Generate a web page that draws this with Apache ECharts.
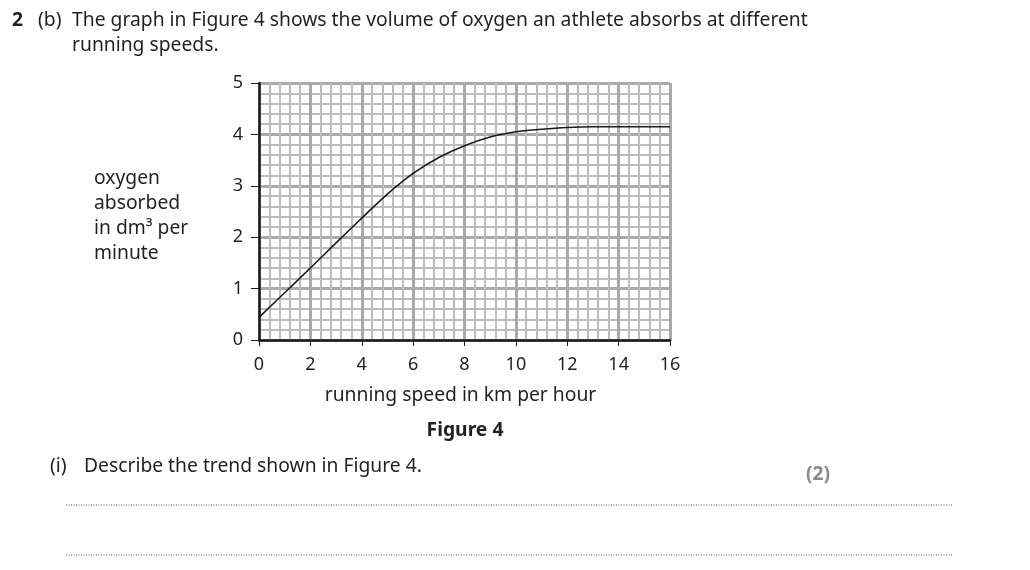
<!DOCTYPE html>
<html>
<head>
<meta charset="utf-8">
<script src="https://cdn.jsdelivr.net/npm/echarts@6/dist/echarts.min.js"></script>
<style>
html,body{margin:0;padding:0;background:#fff;}
#c{width:1030px;height:570px;}
</style>
</head>
<body>
<div id="c"></div>
<script>
// Data
const speeds = [0, 1, 2, 3, 4, 5, 6, 7, 8, 9, 10, 11, 12, 13, 14, 15, 16];
const oxygen = [0.44, 0.92, 1.40, 1.89, 2.37, 2.84, 3.24, 3.55, 3.78, 3.95, 4.05, 4.10, 4.135, 4.15, 4.15, 4.15, 4.15];
const xTicks = [0, 2, 4, 6, 8, 10, 12, 14, 16];
const yTicks = [0, 1, 2, 3, 4, 5];
const yLabelLines = ['oxygen', 'absorbed', 'in dm\u00B3 per', 'minute'];
const xAxisTitle = 'running speed in km per hour';
const figureTitle = 'Figure 4';
const headLine1 = 'The graph in Figure 4 shows the volume of oxygen an athlete absorbs at different';
const headLine2 = 'running speeds.';
const questionText = 'Describe the trend shown in Figure 4.';

const FONT = '"Noto Sans", sans-serif';
const FS = '19.3px ';
const TXT = '#231f20';

const chart = echarts.init(document.getElementById('c'));

function txt(x, y, t, opts) {
  return {type:'text', style: Object.assign({x:x, y:y, text:t, font:FS + FONT, fill:TXT, textVerticalAlign:'middle', textAlign:'left'}, opts || {})};
}

const graphics = [
  txt(12, 21, '2', {font:'bold ' + FS + FONT}),
  txt(38, 21, '(b)'),
  txt(72, 21, headLine1),
  txt(72, 46, headLine2),
  txt(465, 431, figureTitle, {font:'bold ' + FS + FONT, textAlign:'center'}),
  txt(50, 467, '(i)'),
  txt(84, 467, questionText),
  txt(806, 475, '(2)', {font:'bold ' + FS + FONT, fill:'#8a8a8a'}),
  {type:'line', shape:{x1:66, y1:505, x2:952, y2:505}, style:{stroke:'#555', lineWidth:1, lineDash:[1,1.5]}},
  {type:'line', shape:{x1:66, y1:555, x2:952, y2:555}, style:{stroke:'#555', lineWidth:1, lineDash:[1,1.5]}}
];
yLabelLines.forEach((t, i) => {
  graphics.push(txt(94, 179 + i * 25, t));
});

chart.setOption({
  animation: false,
  backgroundColor: '#fff',
  grid: {left: 259, right: 360, top: 83, bottom: 230, containLabel: false},
  xAxis: {
    type: 'value', min: xTicks[0], max: xTicks[xTicks.length - 1], interval: 2,
    name: xAxisTitle, nameLocation: 'middle', nameGap: 46,
    nameTextStyle: {fontFamily: FONT, fontSize: 19.3, color: TXT, padding: [0, 8, 0, 0]},
    axisLine: {show: true, onZero: false, lineStyle: {color: '#1a1a1a', width: 2.5}},
    axisTick: {show: true, length: 6, lineStyle: {color: '#1a1a1a', width: 1}},
    axisLabel: {fontFamily: FONT, fontSize: 18, color: TXT, margin: 16},
    splitLine: {show: true, lineStyle: {color: '#aaaaaa', width: 3}},
    minorTick: {show: true, splitNumber: 5, length: 0},
    minorSplitLine: {show: true, lineStyle: {color: '#bdbdbd', width: 2}}
  },
  yAxis: {
    type: 'value', min: yTicks[0], max: yTicks[yTicks.length - 1], interval: 1,
    axisLine: {show: true, onZero: false, lineStyle: {color: '#1a1a1a', width: 2.5}},
    axisTick: {show: true, length: 8, lineStyle: {color: '#1a1a1a', width: 1}},
    axisLabel: {fontFamily: FONT, fontSize: 18, color: TXT, margin: 16},
    splitLine: {show: true, lineStyle: {color: '#aaaaaa', width: 3}},
    minorTick: {show: true, splitNumber: 5, length: 0},
    minorSplitLine: {show: true, lineStyle: {color: '#bdbdbd', width: 2}}
  },
  series: [{
    type: 'line',
    data: speeds.map((s, i) => [s, oxygen[i]]),
    smooth: 0.4,
    showSymbol: false,
    lineStyle: {color: '#1a1a1a', width: 1.6},
    z: 5
  }],
  graphic: graphics
});
</script>
</body>
</html>
